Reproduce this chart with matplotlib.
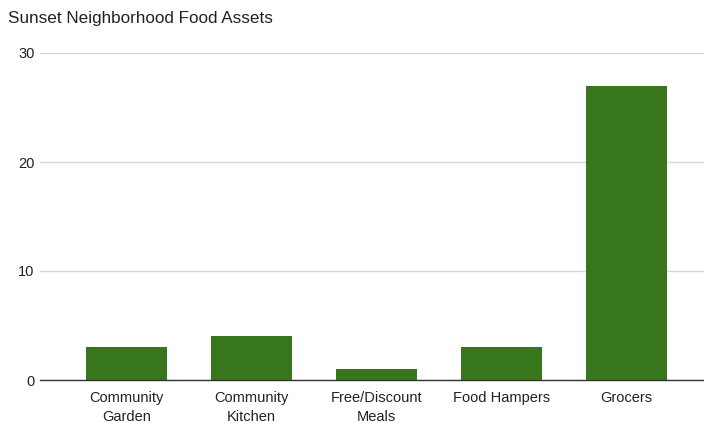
import matplotlib.pyplot as plt

# data
categories = ['Community\nGarden', 'Community\nKitchen', 'Free/Discount\nMeals', 'Food Hampers', 'Grocers']
values = [3, 4, 1, 3, 27]
yticks = [0, 10, 20, 30]

plt.rcParams['font.family'] = ['Liberation Sans', 'DejaVu Sans']

fig = plt.figure(figsize=(7.04, 4.23), dpi=100)
ax = fig.add_axes([40 / 704, 1 - 380 / 423, 1 - 40 / 704, (380 - 53) / 423])

x = range(len(categories))
ax.bar(x, values, width=0.65, color='#38761d', zorder=3)

ax.set_xlim(-0.692, 4.62)
ax.set_ylim(0, 30)
ax.set_yticks(yticks)
ax.set_xticks(list(x))
ax.set_xticklabels(categories, fontsize=10.5, color='#222222', linespacing=1.4)
ax.tick_params(axis='y', labelsize=10.5, labelcolor='#222222', length=0, pad=4)
ax.tick_params(axis='x', length=0, pad=8)

# grid lines
ax.yaxis.grid(True, color='#d9d9d9', linewidth=1, zorder=0)
for s in ['top', 'right', 'left']:
    ax.spines[s].set_visible(False)
ax.spines['bottom'].set_color('#333333')
ax.spines['bottom'].set_linewidth(1)
ax.spines['bottom'].set_zorder(4)

fig.text(8 / 704, 1 - 18 / 423, 'Sunset Neighborhood Food Assets', fontsize=12.3,
         color='#222222', ha='left', va='center')

fig.savefig('out.png', dpi=100, facecolor='white')
